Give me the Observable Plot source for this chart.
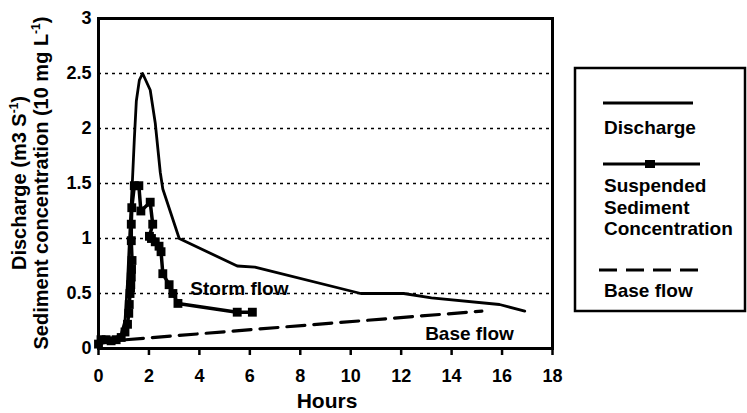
<!DOCTYPE html>
<html>
<head>
<meta charset="utf-8">
<script src="https://cdn.jsdelivr.net/npm/d3@7"></script>
<script src="https://cdn.jsdelivr.net/npm/@observablehq/plot@0.6"></script>
<style>
  html, body { margin: 0; padding: 0; background: #fff; }
  #wrap { position: relative; width: 747px; height: 413px; font-family: "Liberation Sans", Arial, sans-serif; font-weight: bold; }
  #overlay { position: absolute; left: 0; top: 0; pointer-events: none; }
</style>
</head>
<body>
<div id="wrap"></div>
<script>
// ---- data ----
const dischargeHours = [0, 0.5, 0.9, 1.05, 1.15, 1.25, 1.35, 1.42, 1.5, 1.62, 1.75, 2.05, 2.25, 2.45, 2.55, 3.2, 5.5, 6.2, 10.4, 12.1, 13.2, 15.9, 16.9];
const dischargeValues = [0.04, 0.07, 0.13, 0.25, 0.6, 1.1, 1.55, 1.9, 2.25, 2.44, 2.5, 2.35, 2.05, 1.6, 1.45, 1.0, 0.75, 0.74, 0.5, 0.5, 0.46, 0.4, 0.34];

const sedimentHours = [0, 0.1, 0.3, 0.5, 0.7, 0.9, 1.05, 1.15, 1.2, 1.22, 1.25, 1.27, 1.28, 1.3, 1.31, 1.33, 1.3, 1.3, 1.32, 1.42, 1.6, 1.68, 2.05, 2.15, 2.02, 2.1, 2.25, 2.4, 2.48, 2.55, 2.8, 2.95, 3.15, 5.5, 6.1];
const sedimentValues = [0.04, 0.08, 0.08, 0.07, 0.08, 0.1, 0.15, 0.22, 0.32, 0.4, 0.5, 0.55, 0.58, 0.65, 0.72, 0.8, 0.98, 1.13, 1.28, 1.48, 1.48, 1.25, 1.33, 1.13, 1.02, 1.0, 0.97, 0.93, 0.88, 0.68, 0.58, 0.5, 0.41, 0.33, 0.33];

const baseFlowHours = [0, 15.2];
const baseFlowValues = [0.06, 0.34];

const xTicks = [0, 2, 4, 6, 8, 10, 12, 14, 16, 18];
const yTicks = [0, 0.5, 1, 1.5, 2, 2.5, 3];
const gridValues = [0.5, 1, 1.5, 2, 2.5];

const annotationText = ["Storm flow", "Base flow"];
const annotationHours = [3.64, 12.95];
const annotationValues = [0.545, 0.136];

const xLabel = "Hours";
const legendLabels = ["Discharge", "Suspended", "Sediment", "Concentration", "Base flow"];

// ---- tables ----
const discharge = dischargeHours.map((h, i) => ({h, v: dischargeValues[i]}));
const sediment = sedimentHours.map((h, i) => ({h, v: sedimentValues[i]}));
const baseFlow = baseFlowHours.map((h, i) => ({h, v: baseFlowValues[i]}));
const annotations = annotationText.map((t, i) => ({t, h: annotationHours[i], v: annotationValues[i]}));

const chart = Plot.plot({
  width: 747,
  height: 413,
  marginLeft: 98,
  marginRight: 195,
  marginTop: 18,
  marginBottom: 65,
  style: {fontFamily: "'Liberation Sans', Arial, sans-serif", fontWeight: "bold", fontSize: "18px", color: "#000", background: "#fff", overflow: "visible"},
  x: {domain: [0, 18]},
  y: {domain: [0, 3]},
  marks: [
    Plot.ruleY(gridValues, {stroke: "#000", strokeWidth: 1.7, strokeDasharray: "3,4"}),
    Plot.line(baseFlow, {x: "h", y: "v", stroke: "#000", strokeWidth: 3.2, strokeDasharray: "18,9"}),
    Plot.line(discharge, {x: "h", y: "v", stroke: "#000", strokeWidth: 2.8, curve: "linear"}),
    Plot.line(sediment, {x: "h", y: "v", stroke: "#000", strokeWidth: 3.5}),
    Plot.dot(sediment, {x: "h", y: "v", symbol: "square", r: 5, fill: "#000", stroke: "none"}),
    Plot.text(annotations, {x: "h", y: "v", text: "t", textAnchor: "start", fontSize: 19, fontWeight: "bold", fill: "#000"}),
    Plot.frame({stroke: "#000", strokeWidth: 3}),
    Plot.axisX({ticks: xTicks, tickSize: 7, tickPadding: 14, strokeWidth: 2.5, label: null, fontSize: 18, tickFormat: d => String(d)}),
    Plot.axisY({ticks: yTicks, tickSize: 0, tickPadding: 7, label: null, fontSize: 18, tickFormat: d => String(d)})
  ]
});

const wrap = document.getElementById("wrap");
wrap.appendChild(chart);

// ---- overlay: axis titles and legend ----
const ov = d3.select(wrap).append("svg").attr("id", "overlay").attr("width", 747).attr("height", 413)
  .style("font-family", "'Liberation Sans', Arial, sans-serif").style("font-weight", "bold");

ov.append("text").attr("x", 327).attr("y", 408).attr("text-anchor", "middle").attr("font-size", 21).text(xLabel);

const yt1 = ov.append("text").attr("transform", "translate(26,183) rotate(-90)").attr("text-anchor", "middle").attr("font-size", 20);
yt1.append("tspan").text("Discharge (m3 S");
yt1.append("tspan").attr("font-size", 12).attr("dy", -8).text("-1");
yt1.append("tspan").attr("dy", 8).text(")");

const yt2 = ov.append("text").attr("transform", "translate(48,183) rotate(-90)").attr("text-anchor", "middle").attr("font-size", 20);
yt2.append("tspan").text("Sediment concentration (10 mg L");
yt2.append("tspan").attr("font-size", 12).attr("dy", -8).text("-1");
yt2.append("tspan").attr("dy", 8).text(")");

// legend box
ov.append("rect").attr("x", 575).attr("y", 68).attr("width", 170).attr("height", 243)
  .attr("fill", "#fff").attr("stroke", "#000").attr("stroke-width", 2.5);
ov.append("line").attr("x1", 603).attr("x2", 693).attr("y1", 103).attr("y2", 103).attr("stroke", "#000").attr("stroke-width", 3);
ov.append("line").attr("x1", 603).attr("x2", 700).attr("y1", 164).attr("y2", 164).attr("stroke", "#000").attr("stroke-width", 3);
ov.append("rect").attr("x", 645).attr("y", 160).attr("width", 10).attr("height", 8).attr("fill", "#000");
ov.append("line").attr("x1", 599).attr("x2", 700).attr("y1", 270).attr("y2", 270).attr("stroke", "#000").attr("stroke-width", 3.2).attr("stroke-dasharray", "18,9");
const legendY = [134, 192, 214, 235, 297];
legendLabels.forEach((t, i) => {
  ov.append("text").attr("x", 604).attr("y", legendY[i]).attr("font-size", 19).text(t);
});
</script>
</body>
</html>
